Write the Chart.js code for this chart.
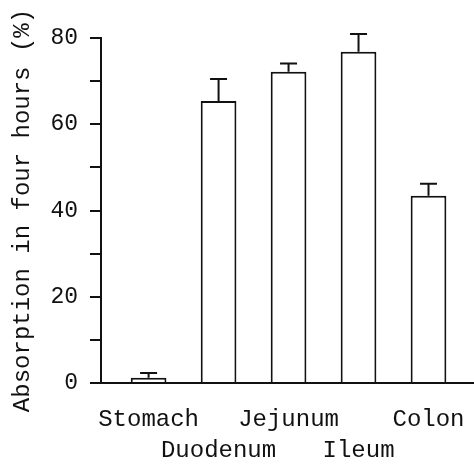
<!DOCTYPE html>
<html>
<head>
<meta charset="utf-8">
<script src="https://cdn.jsdelivr.net/npm/chart.js@4"></script>
<style>
  html, body { margin: 0; padding: 0; background: #fff; }
  #wrap { width: 474px; height: 464px; }
</style>
</head>
<body>
<div id="wrap"><canvas id="chart"></canvas></div>
<script>
// data
const sites = ['Stomach', 'Duodenum', 'Jejunum', 'Ileum', 'Colon'];
const absorption = [1.2, 65.4, 72.2, 76.8, 43.4];
const errorUp = [1.1, 5.1, 1.9, 4.1, 2.8];
const yTicks = [0, 20, 40, 60, 80];

const ink = '#111';
const monoFont = "'Liberation Mono', 'Courier New', monospace";

// error bars (upper half only) drawn from the chart's own scales
const errorBars = {
    id: 'errorBars',
    afterDatasetsDraw(chart) {
        const ctx = chart.ctx;
        const xs = chart.scales.x;
        const ys = chart.scales.y;
        ctx.save();
        ctx.strokeStyle = ink;
        ctx.lineWidth = 2;
        absorption.forEach((v, i) => {
            const x = xs.getPixelForValue(i);
            const y0 = ys.getPixelForValue(v);
            const y1 = ys.getPixelForValue(v + errorUp[i]);
            ctx.beginPath();
            ctx.moveTo(x, y0);
            ctx.lineTo(x, y1);
            ctx.moveTo(x - 8.5, y1);
            ctx.lineTo(x + 8.5, y1);
            ctx.stroke();
        });
        ctx.restore();
    }
};

new Chart(document.getElementById('chart').getContext('2d'), {
    type: 'bar',
    data: {
        datasets: [{
            data: absorption.map((v, i) => ({ x: i, y: v })),
            backgroundColor: '#fff',
            borderColor: ink,
            borderWidth: 2,
            categoryPercentage: 1,
            barPercentage: 0.51
        }]
    },
    options: {
        responsive: true,
        maintainAspectRatio: false,
        animation: false,
        events: [],
        layout: { padding: { top: 38, left: 0, right: 0, bottom: 0 } },
        plugins: {
            legend: { display: false },
            tooltip: { enabled: false }
        },
        scales: {
            x: {
                type: 'linear',
                offset: false,
                min: -0.68,
                max: 4.65,
                afterBuildTicks: scale => {
                    scale.ticks = sites.map((s, i) => ({ value: i }));
                },
                afterFit: scale => {
                    scale.height = 81;
                    scale.paddingLeft = 0;
                    scale.paddingRight = 0;
                },
                grid: { display: false, drawTicks: false },
                border: { display: true, color: ink, width: 2 },
                ticks: {
                    autoSkip: false,
                    maxRotation: 0,
                    padding: 21,
                    color: ink,
                    font: { family: monoFont, size: 24, lineHeight: 1.3 },
                    callback: v => (v % 2 === 0 ? [sites[v], ''] : ['', sites[v]])
                }
            },
            y: {
                min: 0,
                max: 80,
                afterFit: scale => { scale.width = 101; },
                grid: { drawOnChartArea: false, drawTicks: true, tickLength: 11, color: ink, lineWidth: 2 },
                border: { display: true, color: ink, width: 2 },
                ticks: {
                    stepSize: 10,
                    padding: 12,
                    color: ink,
                    font: { family: monoFont, size: 23 },
                    callback: v => (yTicks.includes(v) ? v : '')
                },
                title: {
                    display: true,
                    text: 'Absorption in four hours (%)',
                    color: ink,
                    padding: { top: 8, bottom: 0 },
                    font: { family: monoFont, size: 24, lineHeight: 1.2 }
                }
            }
        }
    },
    plugins: [errorBars]
});
</script>
</body>
</html>
